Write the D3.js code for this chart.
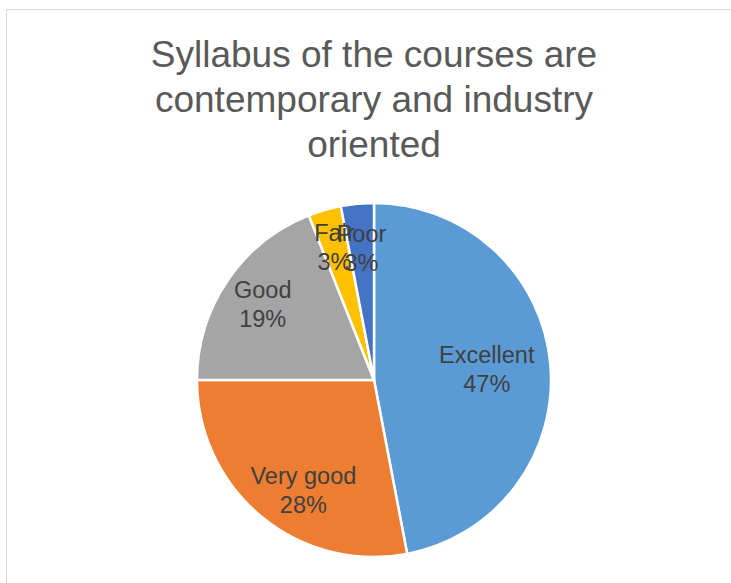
<!DOCTYPE html>
<html>
<head>
<meta charset="utf-8">
<script src="https://cdn.jsdelivr.net/npm/d3@7"></script>
<style>
  html, body { margin: 0; padding: 0; background: #fff; }
  svg { display: block; }
</style>
</head>
<body>
<script>
// Survey responses: "Syllabus of the courses are contemporary and industry oriented"
const categories = ["Excellent", "Very good", "Good", "Fair", "Poor"];
const percents   = [47, 28, 19, 3, 3];
const colors     = ["#5B9BD5", "#ED7D31", "#A5A5A5", "#FFC000", "#4472C4"];
const titleLines = ["Syllabus of the courses are", "contemporary and industry", "oriented"];

const W = 731, H = 583;
const cx = 374, cy = 380, R = 177;

const svg = d3.select("body").append("svg")
  .attr("width", W).attr("height", H);

// chart frame
svg.append("rect")
  .attr("x", 6.5).attr("y", 9.5)
  .attr("width", W).attr("height", H)
  .attr("fill", "#fff")
  .attr("stroke", "#d9d9d9").attr("stroke-width", 1);

// title
const title = svg.append("text")
  .attr("text-anchor", "middle")
  .attr("font-family", "'Liberation Sans', Arial, sans-serif")
  .attr("font-size", 37)
  .attr("fill", "#595959");
titleLines.forEach((t, i) => {
  title.append("tspan").attr("x", 374).attr("y", 67 + i * 45).text(t);
});

const data = categories.map((c, i) => ({ name: c, value: percents[i], color: colors[i] }));

const pie = d3.pie().value(d => d.value).sort(null);
const arcs = pie(data);
const arc = d3.arc().innerRadius(0).outerRadius(R);

const g = svg.append("g").attr("transform", `translate(${cx},${cy})`);

g.selectAll("path.slice")
  .data(arcs)
  .join("path")
  .attr("class", "slice")
  .attr("d", arc)
  .attr("fill", d => d.data.color)
  .attr("stroke", "#fff")
  .attr("stroke-width", 2.5)
  .attr("stroke-linejoin", "round");

// label anchor radius (fraction of R) and small shifts for the best-fit placement
const labelFit = {
  "Excellent": { f: 0.64, dx: 0, dy: 0 },
  "Very good": { f: 0.75, dx: 14, dy: 8 },
  "Good":      { f: 0.76, dx: 0, dy: 0 },
  "Fair":      { f: 0.78, dx: -1, dy: 0 },
  "Poor":      { f: 0.75, dx: 0, dy: 0 }
};

g.selectAll("text.lbl")
  .data(arcs)
  .join("text")
  .attr("class", "lbl")
  .attr("text-anchor", "middle")
  .attr("font-family", "'Liberation Sans', Arial, sans-serif")
  .attr("font-size", 23.5)
  .attr("fill", "#404040")
  .each(function(d) {
    const fit = labelFit[d.data.name];
    const a = (d.startAngle + d.endAngle) / 2;
    const r = R * fit.f;
    const x = Math.sin(a) * r + fit.dx;
    const y = -Math.cos(a) * r + fit.dy;
    const t = d3.select(this);
    t.append("tspan").attr("x", x).attr("y", y - 6).text(d.data.name);
    t.append("tspan").attr("x", x).attr("y", y + 23).text(d.data.value + "%");
  });
</script>
</body>
</html>
